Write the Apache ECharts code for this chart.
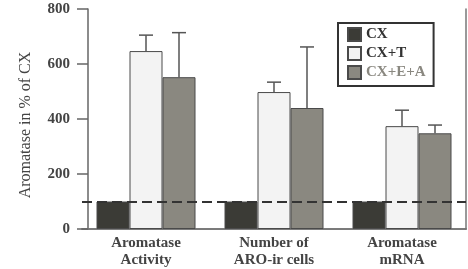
<!doctype html>
<html lang="en">
<head>
<meta charset="utf-8">
<title>Aromatase in % of CX</title>
<script src="https://cdn.jsdelivr.net/npm/echarts@6/dist/echarts.min.js"></script>
<style>
  html, body { margin: 0; padding: 0; background: #fff; }
  #main { width: 468px; height: 269px; }
</style>
</head>
<body>
<div id="main"></div>
<script type="text/javascript">
    // values
    var categories = ['Aromatase\nActivity', 'Number of\nARO-ir cells', 'Aromatase\nmRNA'];
    var cx = [100, 100, 100];
    var cxT = [647, 498, 374];
    var cxEA = [552, 440, 348];
    var cxTErr = [58, 36, 58];
    var cxEAErr = [162, 222, 30];
    var yTicks = [0, 200, 400, 600, 800];

    var serif = 'Liberation Serif';
    var barW = 33;
    var edge = '#4a4a4a';

    // one-sided (upper) error bars, shifted to sit on their bar
    function errorSeries(name, means, errs, shift) {
        return {
            name: name + ' err',
            type: 'custom',
            z: 5,
            data: means.map(function (m, i) { return [i, m, m + errs[i]]; }),
            renderItem: function (params, api) {
                var low = api.coord([api.value(0), api.value(1)]);
                var high = api.coord([api.value(0), api.value(2)]);
                var x = low[0] + shift;
                var cap = 7;
                var st = { stroke: '#555', lineWidth: 1.5 };
                return {
                    type: 'group',
                    children: [
                        { type: 'line', shape: { x1: x, y1: low[1], x2: x, y2: high[1] }, style: st },
                        { type: 'line', shape: { x1: x - cap, y1: high[1], x2: x + cap, y2: high[1] }, style: st }
                    ]
                };
            }
        };
    }

    var chart = echarts.init(document.getElementById('main'));

    var option = {
        animation: false,
        grid: { left: 82, right: 2, top: 9, bottom: 37 },
        legend: {
            left: 338,
            top: 23,
            orient: 'vertical',
            icon: 'rect',
            itemWidth: 13,
            itemHeight: 13,
            itemGap: 4,
            padding: [4, 8, 6, 9],
            borderColor: '#333',
            borderWidth: 2,
            textStyle: { fontFamily: serif, fontSize: 15, fontWeight: 'bold', color: '#333', lineHeight: 15 },
            data: [
                { name: 'CX' },
                { name: 'CX+T' },
                { name: 'CX+E+A', textStyle: { color: '#8a8880' } }
            ]
        },
        xAxis: [{
            type: 'category',
            data: categories,
            axisLine: { lineStyle: { color: '#666', width: 1.5 } },
            axisTick: { show: false },
            axisLabel: {
                fontFamily: serif, fontSize: 15, fontWeight: 'bold', color: '#444',
                lineHeight: 17, margin: 6
            }
        }, {
            type: 'category',
            position: 'top',
            data: categories,
            axisLine: { lineStyle: { color: '#777', width: 1.5 } },
            axisTick: { show: false },
            axisLabel: { show: false }
        }],
        yAxis: [{
            type: 'value',
            min: yTicks[0],
            max: yTicks[yTicks.length - 1],
            interval: 200,
            offset: -6,
            name: 'Aromatase in % of CX',
            nameLocation: 'middle',
            nameGap: 54,
            nameTextStyle: { fontFamily: serif, fontSize: 16, color: '#444', padding: [0, 12, 0, 0] },
            axisLine: { show: true, lineStyle: { color: '#666', width: 1.5 } },
            axisTick: { show: true, length: 11, lineStyle: { color: '#666', width: 1.5 } },
            axisLabel: { fontFamily: serif, fontSize: 15, fontWeight: 'bold', color: '#444', margin: 18 },
            splitLine: { show: false }
        }, {
            type: 'value',
            position: 'right',
            min: yTicks[0],
            max: yTicks[yTicks.length - 1],
            axisLine: { show: true, lineStyle: { color: '#777', width: 1.5 } },
            axisTick: { show: false },
            axisLabel: { show: false },
            splitLine: { show: false }
        }],
        series: [{
            name: 'CX',
            type: 'bar',
            data: cx,
            barWidth: barW,
            barGap: '0%',
            itemStyle: { color: '#3b3b36', borderColor: edge, borderWidth: 1 },
            markLine: {
                silent: true,
                symbol: 'none',
                label: { show: false },
                lineStyle: { color: '#333', width: 2, type: [10, 5] },
                data: [{ yAxis: 100 }],
                z: 10
            }
        }, {
            name: 'CX+T',
            type: 'bar',
            data: cxT,
            barWidth: barW,
            barGap: '0%',
            itemStyle: { color: '#f3f3f3', borderColor: edge, borderWidth: 1 }
        }, {
            name: 'CX+E+A',
            type: 'bar',
            data: cxEA,
            barWidth: barW,
            barGap: '0%',
            itemStyle: { color: '#8a8880', borderColor: edge, borderWidth: 1 }
        },
        errorSeries('CX+T', cxT, cxTErr, 0),
        errorSeries('CX+E+A', cxEA, cxEAErr, barW)]
    };

    chart.setOption(option);
</script>
</body>
</html>
